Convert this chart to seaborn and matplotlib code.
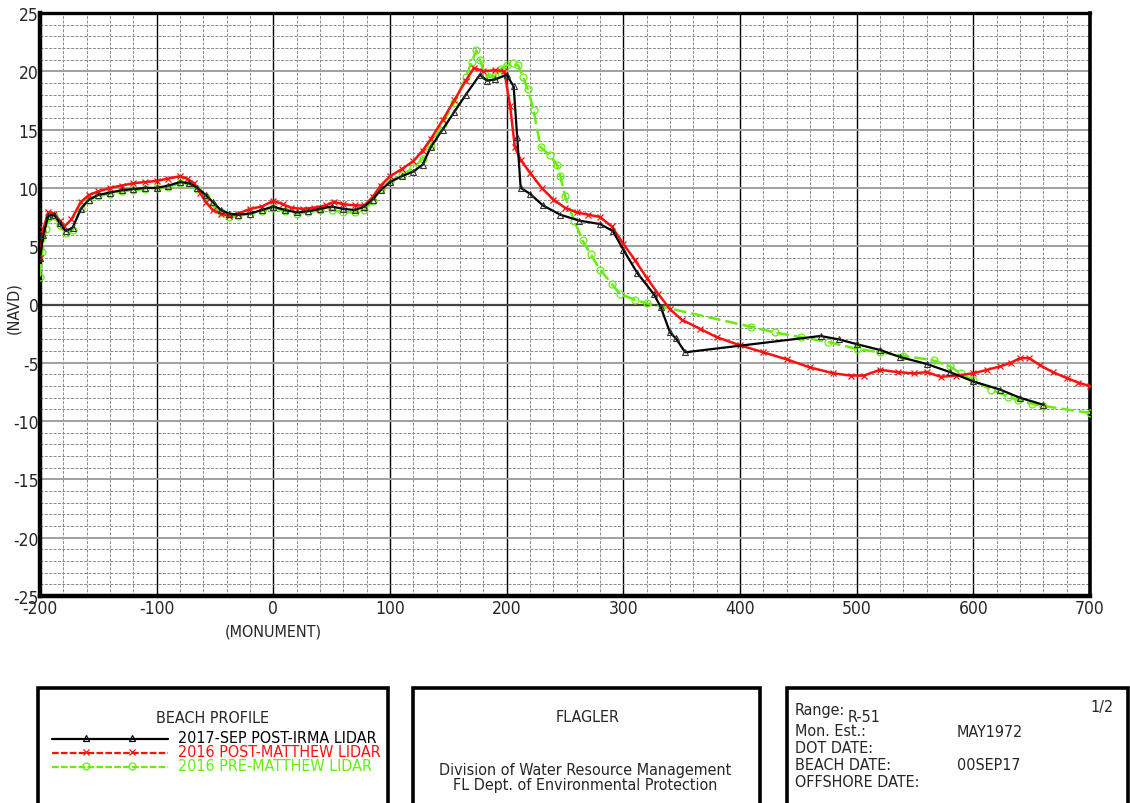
import numpy as np
import pandas as pd
import matplotlib
matplotlib.use("Agg")
import matplotlib.pyplot as plt
import seaborn as sns
from matplotlib.lines import Line2D

# ---------------- data ----------------
irma_x = [-200, -197, -193, -188, -183, -178, -172, -165, -158, -150, -140, -130, -120, -110, -100,
          -90, -80, -72, -65, -58, -52, -45, -38, -30, -20, -10, 0, 10, 20, 30, 40, 50, 60, 70, 78,
          85, 92, 100, 110, 120, 128, 135, 145, 155, 165, 177, 183, 190, 200, 206, 209, 212, 220,
          231, 246, 262, 280, 291, 300, 312, 326, 332, 340, 345, 353, 469, 485, 500, 520, 537, 560,
          580, 600, 623, 640, 660]
irma_y = [4.0, 6.0, 7.6, 7.7, 7.0, 6.3, 6.6, 8.2, 9.0, 9.4, 9.6, 9.8, 9.9, 10.0, 10.0,
          10.2, 10.5, 10.4, 10.0, 9.4, 8.8, 8.1, 7.8, 7.7, 7.8, 8.1, 8.4, 8.1, 7.9, 8.0, 8.2, 8.4, 8.2, 8.1, 8.4,
          9.0, 9.8, 10.5, 11.0, 11.4, 12.0, 13.5, 15.0, 16.5, 18.0, 19.7, 19.2, 19.3, 19.7, 18.7, 14.4, 10.0, 9.5,
          8.5, 7.7, 7.2, 6.9, 6.3, 4.7, 2.7, 0.9, -0.2, -2.4, -2.9, -4.1, -2.7, -3.0, -3.4, -3.9, -4.5, -5.1,
          -5.8, -6.6, -7.3, -8.0, -8.6]

post_x = [-200, -197, -193, -188, -183, -179, -173, -165, -158, -150, -140, -130, -120, -110, -100,
          -90, -80, -74, -68, -63, -58, -52, -45, -38, -30, -20, -10, 0, 8, 15, 25, 35, 45, 52, 60,
          70, 78, 85, 92, 100, 110, 120, 128, 135, 145, 155, 165, 172, 180, 190, 198, 203, 207, 212,
          220, 230, 240, 250, 260, 270, 280, 290, 300, 310, 320, 330, 340, 350, 366, 380, 400, 420,
          440, 460, 480, 495, 506, 520, 535, 549, 560, 572, 585, 600, 612, 623, 632, 640, 648, 657,
          668, 680, 690, 700]
post_y = [4.0, 6.5, 7.9, 7.8, 7.2, 6.7, 7.3, 8.8, 9.4, 9.7, 10.0, 10.2, 10.4, 10.5, 10.6,
          10.8, 11.0, 10.8, 10.4, 9.6, 8.8, 8.1, 7.8, 7.6, 7.8, 8.2, 8.4, 8.9, 8.6, 8.3, 8.2, 8.3, 8.5, 8.8, 8.6,
          8.5, 8.5, 9.2, 10.2, 11.0, 11.6, 12.3, 13.2, 14.2, 15.8, 17.5, 19.2, 20.3, 20.0, 20.1, 20.0, 17.0, 13.5, 12.4,
          11.3, 10.0, 9.0, 8.3, 7.9, 7.7, 7.5, 6.7, 5.2, 3.8, 2.3, 0.9, -0.4, -1.3, -2.1, -2.8, -3.5, -4.1,
          -4.7, -5.4, -5.9, -6.1, -6.1, -5.6, -5.8, -5.9, -5.8, -6.2, -6.1, -5.9, -5.6, -5.3, -5.0, -4.6, -4.6, -5.2,
          -5.8, -6.3, -6.7, -7.0]

pre_x = [-200, -198, -195, -192, -188, -183, -178, -172, -165, -158, -150, -140, -130, -120, -110,
         -100, -90, -80, -72, -65, -58, -52, -45, -38, -30, -20, -10, 0, 10, 20, 30, 40, 50, 60, 70,
         78, 85, 92, 100, 110, 120, 128, 135, 145, 155, 165, 170, 174, 177, 181, 185, 190, 195, 200,
         205, 210, 214, 218, 223, 229, 237, 243, 246, 250, 258, 265, 272, 280, 290, 297, 310, 320,
         409, 430, 452, 475, 500, 520, 540, 566, 580, 589, 600, 615, 630, 638, 650, 660, 700]
pre_y = [2.4, 4.5, 6.5, 7.5, 7.6, 6.8, 6.1, 6.4, 8.3, 9.0, 9.3, 9.5, 9.7, 9.8, 9.9,
         10.0, 10.1, 10.4, 10.3, 9.9, 9.2, 8.5, 7.9, 7.5, 7.6, 7.8, 8.0, 8.3, 8.0, 7.8, 7.9, 8.1, 8.1, 7.9, 7.9,
         8.1, 8.9, 9.9, 10.6, 11.1, 11.7, 12.5, 13.6, 15.5, 17.3, 19.5, 20.8, 21.8, 21.0, 19.8, 19.5, 19.6, 20.2, 20.5,
         20.7, 20.5, 19.5, 18.5, 16.7, 13.5, 12.8, 12.0, 11.0, 9.3, 7.2, 5.5, 4.3, 3.0, 1.8, 0.9, 0.4, 0.1,
         -1.9, -2.4, -2.8, -3.2, -3.8, -4.1, -4.4, -4.8, -5.3, -5.9, -6.5, -7.3, -7.9, -8.2, -8.5, -8.7, -9.3]

series_names = ["2017-SEP POST-IRMA LIDAR", "2016 POST-MATTHEW LIDAR", "2016 PRE-MATTHEW LIDAR"]
x_ticks = [-200, -100, 0, 100, 200, 300, 400, 500, 600, 700]
y_ticks = [-25, -20, -15, -10, -5, 0, 5, 10, 15, 20, 25]

# ---------------- styling ----------------
sns.set_theme(style="white")
FONT = ["DejaVu Sans", "Liberation Sans"]
plt.rcParams["font.family"] = FONT
plt.rcParams["font.stretch"] = "condensed"
TXT = dict(family=FONT, stretch="condensed")
FS = 11.5

W, H = 1130, 804
fig = plt.figure(figsize=(W / 100, H / 100), dpi=100)


def fx(px):
    return px / W


def fy(py):
    return 1 - py / H


ax = fig.add_axes([fx(40), fy(597), fx(1090) - fx(40), fy(14) - fy(597)])

BLACK = "#000000"
RED = "#ff1010"
GREEN = "#66ee11"

ax.set_xlim(-200, 700)
ax.set_ylim(-25, 25)
ax.set_xticks(x_ticks)
ax.set_yticks(y_ticks)
ax.set_xticks(np.arange(-200, 701, 20), minor=True)
ax.set_yticks(np.arange(-25, 26, 1), minor=True)
ax.set_xticklabels([str(v) for v in x_ticks])
ax.set_yticklabels([str(v) for v in y_ticks])
ax.grid(which="major", axis="x", color="black", lw=1.0, ls="-")
ax.grid(which="minor", axis="x", color="#8a8a8a", lw=0.7, ls=(0, (3, 1.5)))
ax.grid(which="major", axis="y", color="#a0a0a0", lw=1.4, ls="-")
ax.grid(which="minor", axis="y", color="#8a8a8a", lw=0.7, ls=(0, (3, 1.5)))
ax.axhline(0, color="#444444", lw=1.6, zorder=1)
ax.set_axisbelow(True)
ax.tick_params(which="both", length=0, labelsize=12.5)
ax.tick_params(axis="y", pad=1)
ax.tick_params(axis="x", pad=2)
for lab in ax.get_xticklabels() + ax.get_yticklabels():
    lab.set_family(FONT)
    lab.set_stretch("condensed")
ax.spines["left"].set_linewidth(3.2)
ax.spines["bottom"].set_linewidth(3.2)
ax.spines["top"].set_linewidth(2.4)
ax.spines["right"].set_linewidth(2.6)
for s in ax.spines.values():
    s.set_color("black")

df_irma = pd.DataFrame({"x": irma_x, "y": irma_y})
df_post = pd.DataFrame({"x": post_x, "y": post_y})
df_pre = pd.DataFrame({"x": pre_x, "y": pre_y})

sns.lineplot(data=df_pre, x="x", y="y", ax=ax, sort=False, estimator=None, color=GREEN,
             lw=1.8, linestyle=(0, (5, 2)), marker="o", markersize=5, markerfacecolor="none",
             markeredgecolor=GREEN, markeredgewidth=0.9, zorder=3)
sns.lineplot(data=df_post, x="x", y="y", ax=ax, sort=False, estimator=None, color=RED,
             lw=1.8, linestyle="-", marker="x", markersize=5, markeredgecolor=RED,
             markeredgewidth=0.9, zorder=4)
sns.lineplot(data=df_irma, x="x", y="y", ax=ax, sort=False, estimator=None, color=BLACK,
             lw=1.6, linestyle="-", marker="^", markersize=4.5, markerfacecolor="none",
             markeredgecolor="#333333", markeredgewidth=0.8, zorder=5)
ax.set_xlabel("")
ax.set_ylabel("")
if ax.get_legend() is not None:
    ax.get_legend().remove()

fig.text(fx(14), fy(308), "(NAVD)", rotation=90, ha="center", va="center", fontsize=FS, **TXT)
fig.text(fx(273), fy(632), "(MONUMENT)", ha="center", va="center", fontsize=FS, **TXT)

# ---------------- bottom title blocks ----------------
for (x0, x1) in [(38, 388), (413, 760), (787, 1128)]:
    fig.add_artist(Line2D([fx(x0), fx(x0), fx(x1), fx(x1)], [fy(806), fy(689), fy(689), fy(806)],
                          transform=fig.transFigure, color="black", lw=2.6,
                          solid_joinstyle="miter"))

fig.text(fx(212), fy(719), "BEACH PROFILE", ha="center", va="center", fontsize=FS, **TXT)
legend_rows = [(739, BLACK, "-", "^"), (753, RED, (0, (3, 1)), "x"), (767, GREEN, (0, (3, 1)), "o")]
for (py, col, ls, mk), name in zip(legend_rows, series_names):
    fig.add_artist(Line2D([fx(52), fx(168)], [fy(py + 1), fy(py + 1)], transform=fig.transFigure,
                          color=col, lw=1.6, ls=ls))
    fig.add_artist(Line2D([fx(86), fx(132)], [fy(py), fy(py)], transform=fig.transFigure,
                          color=col, lw=0, marker=mk, markersize=5,
                          markerfacecolor="none" if mk != "x" else col, markeredgewidth=0.9))
    fig.text(fx(178), fy(py), name, ha="left", va="center", fontsize=FS, color=col, **TXT)

fig.text(fx(588), fy(718), "FLAGLER", ha="center", va="center", fontsize=FS, **TXT)
fig.text(fx(585), fy(771), "Division of Water Resource Management", ha="center", va="center",
         fontsize=FS, **TXT)
fig.text(fx(585), fy(786), "FL Dept. of Environmental Protection", ha="center", va="center",
         fontsize=FS, **TXT)

info = [(711, "Range:"), (732, "Mon. Est.:"), (749, "DOT DATE:"), (766, "BEACH DATE:"), (783, "OFFSHORE DATE:")]
for py, t in info:
    fig.text(fx(795), fy(py), t, ha="left", va="center", fontsize=FS, **TXT)
fig.text(fx(848), fy(718), "R-51", ha="left", va="center", fontsize=FS, **TXT)
fig.text(fx(1114), fy(708), "1/2", ha="right", va="center", fontsize=FS, **TXT)
fig.text(fx(957), fy(733), "MAY1972", ha="left", va="center", fontsize=FS, **TXT)
fig.text(fx(957), fy(766), "00SEP17", ha="left", va="center", fontsize=FS, **TXT)

fig.savefig("out.png", dpi=100, facecolor="white")
